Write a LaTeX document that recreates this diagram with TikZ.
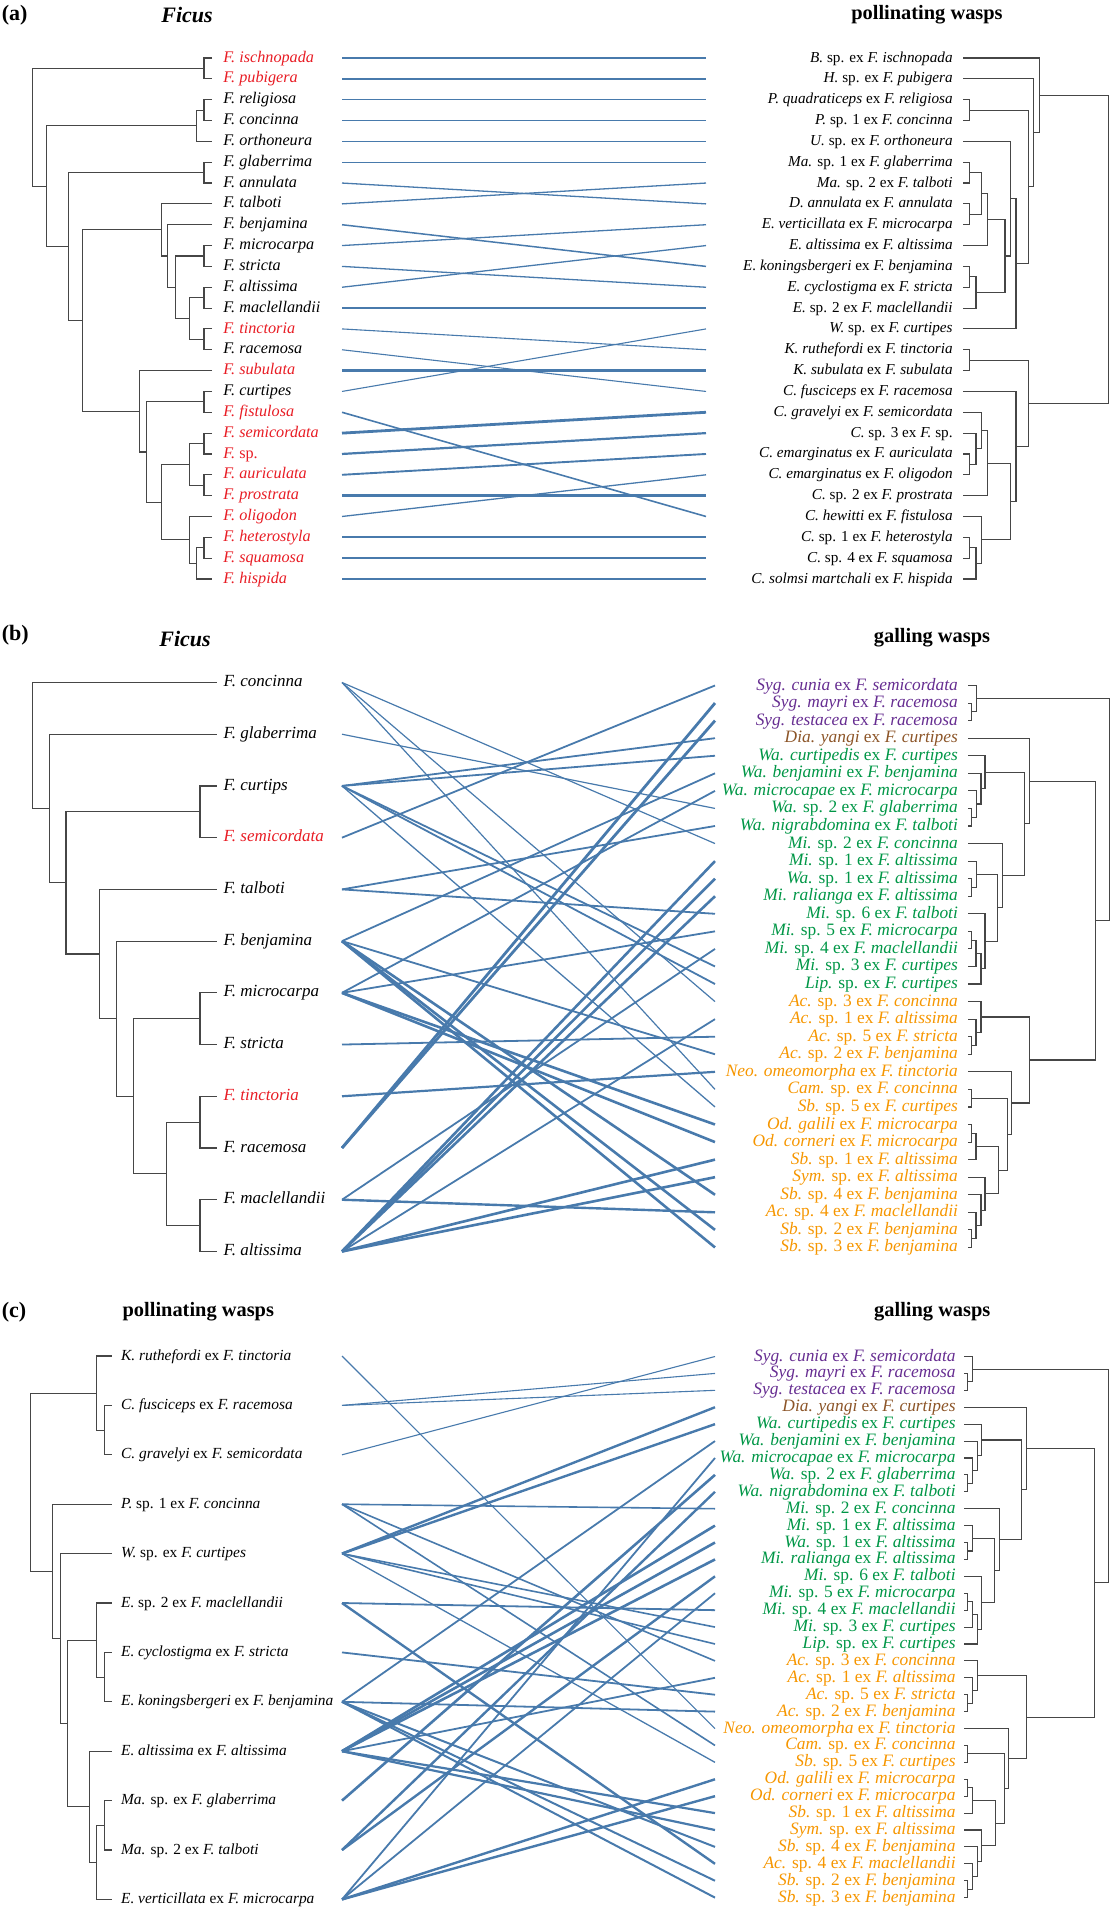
\documentclass[tikz,border=0pt]{standalone}
\usepackage{fontspec}
\setmainfont{Liberation Serif}
\usetikzlibrary{calc}
\definecolor{linkblue}{RGB}{72,122,172}
\definecolor{figred}{RGB}{232,28,36}
\definecolor{sygpurple}{RGB}{102,45,145}
\definecolor{diabrown}{RGB}{140,85,40}
\definecolor{wagreen}{RGB}{0,150,70}
\definecolor{acorange}{RGB}{246,150,0}
\definecolor{treegray}{RGB}{70,70,70}
\tikzstyle{branch}=[draw=treegray, line width=0.55pt]
\tikzstyle{link}=[draw=linkblue]
\tikzstyle{tipL}=[anchor=west, inner sep=0pt, text height=5.6pt, text depth=1.5pt]
\tikzstyle{tipR}=[anchor=east, inner sep=0pt, text height=5.4pt, text depth=1.4pt]
\tikzstyle{galR}=[anchor=east, inner sep=0pt, text height=6.1pt, text depth=1.6pt, font=\fontsize{8.7}{10}\selectfont]
\tikzstyle{head}=[inner sep=0pt, font=\bfseries\fontsize{10.2}{12}\selectfont]
\tikzstyle{genushead}=[inner sep=0pt, font=\bfseries\itshape\fontsize{11}{13}\selectfont]
\tikzstyle{panel}=[anchor=west, inner sep=0pt, font=\bfseries\fontsize{11}{13}\selectfont]
\pgfdeclarelayer{edgelayer}
\pgfdeclarelayer{nodelayer}
\pgfsetlayers{edgelayer,nodelayer,main}
\newcommand\gn[1]{\textit{#1}}
% bracket joining two children, new node at x = #2
\newcommand\clade[4]{%
  \coordinate (#1) at (perpendicular cs: horizontal line through={($(#3)!.5!(#4)$)}, vertical line through={(#2,0)});
  \draw[branch] (#3) -- (#3 -| #1) -- (#4 -| #1) -- (#4);
}
\newcommand\gallist{%
sygpurple/{\gn{Syg. cunia} ex \gn{F. semicordata}},
sygpurple/{\gn{Syg. mayri} ex \gn{F. racemosa}},
sygpurple/{\gn{Syg. testacea} ex \gn{F. racemosa}},
diabrown/{\gn{Dia. yangi} ex \gn{F. curtipes}},
wagreen/{\gn{Wa. curtipedis} ex \gn{F. curtipes}},
wagreen/{\gn{Wa. benjamini} ex \gn{F. benjamina}},
wagreen/{\gn{Wa. microcapae} ex \gn{F. microcarpa}},
wagreen/{\gn{Wa.} sp. 2 ex \gn{F. glaberrima}},
wagreen/{\gn{Wa. nigrabdomina} ex \gn{F. talboti}},
wagreen/{\gn{Mi.} sp. 2 ex \gn{F. concinna}},
wagreen/{\gn{Mi.} sp. 1 ex \gn{F. altissima}},
wagreen/{\gn{Wa.} sp. 1 ex \gn{F. altissima}},
wagreen/{\gn{Mi. ralianga} ex \gn{F. altissima}},
wagreen/{\gn{Mi.} sp. 6 ex \gn{F. talboti}},
wagreen/{\gn{Mi.} sp. 5 ex \gn{F. microcarpa}},
wagreen/{\gn{Mi.} sp. 4 ex \gn{F. maclellandii}},
wagreen/{\gn{Mi.} sp. 3 ex \gn{F. curtipes}},
wagreen/{\gn{Lip.} sp. ex \gn{F. curtipes}},
acorange/{\gn{Ac.} sp. 3 ex \gn{F. concinna}},
acorange/{\gn{Ac.} sp. 1 ex \gn{F. altissima}},
acorange/{\gn{Ac.} sp. 5 ex \gn{F. stricta}},
acorange/{\gn{Ac.} sp. 2 ex \gn{F. benjamina}},
acorange/{\gn{Neo. omeomorpha} ex \gn{F. tinctoria}},
acorange/{\gn{Cam.} sp. ex \gn{F. concinna}},
acorange/{\gn{Sb.} sp. 5 ex \gn{F. curtipes}},
acorange/{\gn{Od. galili} ex \gn{F. microcarpa}},
acorange/{\gn{Od. corneri} ex \gn{F. microcarpa}},
acorange/{\gn{Sb.} sp. 1 ex \gn{F. altissima}},
acorange/{\gn{Sym.} sp. ex \gn{F. altissima}},
acorange/{\gn{Sb.} sp. 4 ex \gn{F. benjamina}},
acorange/{\gn{Ac.} sp. 4 ex \gn{F. maclellandii}},
acorange/{\gn{Sb.} sp. 2 ex \gn{F. benjamina}},
acorange/{\gn{Sb.} sp. 3 ex \gn{F. benjamina}}}
% galling wasp tree: #1 prefix, #2 tip x, #3 spread
\newcommand\gallingtree[3]{%
  \clade{#1g1}{#2+#3*3.4}{#1W1}{#1W2}
  \clade{#1g2}{#2+#3*8.4}{#1W0}{#1g1}
  \clade{#1g3}{#2+#3*3.4}{#1W7}{#1W8}
  \clade{#1g4}{#2+#3*8.4}{#1W6}{#1g3}
  \clade{#1g5}{#2+#3*12.7}{#1W5}{#1g4}
  \clade{#1g6}{#2+#3*16.7}{#1W4}{#1g5}
  \clade{#1g7}{#2+#3*3.4}{#1W11}{#1W12}
  \clade{#1g8}{#2+#3*8.4}{#1W10}{#1g7}
  \clade{#1g9}{#2+#3*3.4}{#1W14}{#1W15}
  \clade{#1g10}{#2+#3*7.7}{#1g9}{#1W16}
  \clade{#1g11}{#2+#3*12.7}{#1g10}{#1W17}
  \clade{#1g12}{#2+#3*16.7}{#1W13}{#1g11}
  \clade{#1g13}{#2+#3*29.4}{#1g8}{#1g12}
  \clade{#1g14}{#2+#3*34.4}{#1W9}{#1g13}
  \clade{#1g15}{#2+#3*56}{#1g6}{#1g14}
  \clade{#1g16}{#2+#3*61}{#1W3}{#1g15}
  \clade{#1g17}{#2+#3*3.4}{#1W20}{#1W21}
  \clade{#1g18}{#2+#3*7.7}{#1W19}{#1g17}
  \clade{#1g19}{#2+#3*12.7}{#1W18}{#1g18}
  \clade{#1g20}{#2+#3*3.4}{#1W23}{#1W24}
  \clade{#1g21}{#2+#3*3.4}{#1W25}{#1W26}
  \clade{#1g22}{#2+#3*7.7}{#1g21}{#1W27}
  \clade{#1g23}{#2+#3*3.4}{#1W31}{#1W32}
  \clade{#1g24}{#2+#3*7.7}{#1W30}{#1g23}
  \clade{#1g25}{#2+#3*12.7}{#1W29}{#1g24}
  \clade{#1g26}{#2+#3*16.7}{#1W28}{#1g25}
  \clade{#1g27}{#2+#3*30}{#1g22}{#1g26}
  \clade{#1g28}{#2+#3*39}{#1g20}{#1g27}
  \clade{#1g29}{#2+#3*43.4}{#1W22}{#1g28}
  \clade{#1g30}{#2+#3*61}{#1g19}{#1g29}
  \clade{#1g31}{#2+#3*127.4}{#1g16}{#1g30}
  \clade{#1g32}{#2+#3*141}{#1g2}{#1g31}
}
\begin{document}
\begin{tikzpicture}[x=0.5pt, y=-0.5pt]
\useasboundingbox (0,0) rectangle (1110,1911);

%%% (a) Ficus vs pollinating wasps
\node[panel] (pa) at (1.5,15) {(a)};
\node[genushead] (ha1) at (187,15) {Ficus};
\node[head] (ha2) at (927,15) {pollinating wasps};
\begin{pgfonlayer}{nodelayer}
\foreach \c/\t [count=\i from 0] in {figred/\gn{F. ischnopada}, figred/\gn{F. pubigera},
  black/\gn{F. religiosa}, black/\gn{F. concinna}, black/\gn{F. orthoneura},
  black/\gn{F. glaberrima}, black/\gn{F. annulata}, black/\gn{F. talboti},
  black/\gn{F. benjamina}, black/\gn{F. microcarpa}, black/\gn{F. stricta},
  black/\gn{F. altissima}, black/\gn{F. maclellandii}, figred/\gn{F. tinctoria},
  black/\gn{F. racemosa}, figred/\gn{F. subulata}, black/\gn{F. curtipes},
  figred/\gn{F. fistulosa}, figred/\gn{F. semicordata}, figred/{\gn{F.} sp.},
  figred/\gn{F. auriculata}, figred/\gn{F. prostrata}, figred/\gn{F. oligodon},
  figred/\gn{F. heterostyla}, figred/\gn{F. squamosa}, figred/\gn{F. hispida}} {
  \node[tipL, text=\c, font=\fontsize{8.1}{9.5}\selectfont] (aF\i) at (223,58+20.84*\i) {\t};
  \coordinate (aT\i) at (212,58+20.84*\i);
  \coordinate (aL\i) at (342,58+20.84*\i);
}
\foreach \t [count=\i from 0] in {{\gn{B.} sp. ex \gn{F. ischnopada}},
  {\gn{H.} sp. ex \gn{F. pubigera}}, {\gn{P. quadraticeps} ex \gn{F. religiosa}},
  {\gn{P.} sp. 1 ex \gn{F. concinna}}, {\gn{U.} sp. ex \gn{F. orthoneura}},
  {\gn{Ma.} sp. 1 ex \gn{F. glaberrima}}, {\gn{Ma.} sp. 2 ex \gn{F. talboti}},
  {\gn{D. annulata} ex \gn{F. annulata}}, {\gn{E. verticillata} ex \gn{F. microcarpa}},
  {\gn{E. altissima} ex \gn{F. altissima}}, {\gn{E. koningsbergeri} ex \gn{F. benjamina}},
  {\gn{E. cyclostigma} ex \gn{F. stricta}}, {\gn{E.} sp. 2 ex \gn{F. maclellandii}},
  {\gn{W.} sp. ex \gn{F. curtipes}}, {\gn{K. ruthefordi} ex \gn{F. tinctoria}},
  {\gn{K. subulata} ex \gn{F. subulata}}, {\gn{C. fusciceps} ex \gn{F. racemosa}},
  {\gn{C. gravelyi} ex \gn{F. semicordata}}, {\gn{C.} sp. 3 ex \gn{F.} sp.},
  {\gn{C. emarginatus} ex \gn{F. auriculata}}, {\gn{C. emarginatus} ex \gn{F. oligodon}},
  {\gn{C.} sp. 2 ex \gn{F. prostrata}}, {\gn{C. hewitti} ex \gn{F. fistulosa}},
  {\gn{C.} sp. 1 ex \gn{F. heterostyla}}, {\gn{C.} sp. 4 ex \gn{F. squamosa}},
  {\gn{C. solmsi martchali} ex \gn{F. hispida}}} {
  \node[tipR, font=\fontsize{7.6}{9}\selectfont] (aP\i) at (953,58+20.84*\i) {\t};
  \coordinate (aW\i) at (963,58+20.84*\i);
  \coordinate (aR\i) at (706,58+20.84*\i);
}
\end{pgfonlayer}
\begin{pgfonlayer}{edgelayer}
\foreach \l/\r/\w in {0/0/1.5, 1/1/1.5, 2/2/1.4, 3/3/1.4, 4/4/1.4, 5/5/1.4, 6/7/1.3,
  7/6/1.3, 8/10/1.5, 9/8/1.3, 10/11/1.3, 11/9/1.3, 12/12/1.3, 13/14/1.1, 14/16/1.1,
  15/15/2.8, 16/13/1.1, 17/22/1.6, 18/17/2.8, 19/18/2.2, 20/19/1.9, 21/21/2.8,
  22/20/1.3, 23/23/2.2, 24/24/2.4, 25/25/2.4}
  \draw[link, line width=\w*0.5pt] (aL\l) -- (aR\r);
\end{pgfonlayer}
% Ficus tree (a)
\clade{fa1}{204}{aT0}{aT1}
\clade{fa2}{204}{aT2}{aT3}
\clade{fa3}{196.7}{fa2}{aT4}
\clade{fa4}{204}{aT5}{aT6}
\clade{fa5}{204}{aT9}{aT10}
\clade{fa6}{204}{aT11}{aT12}
\clade{fa7}{204}{aT13}{aT14}
\clade{fa8}{189.3}{fa6}{fa7}
\clade{fa9}{175.7}{fa5}{fa8}
\clade{fa10}{167.7}{aT8}{fa9}
\clade{fa11}{161.7}{aT7}{fa10}
\clade{fa12}{204}{aT16}{aT17}
\clade{fa13}{204}{aT18}{aT19}
\clade{fa14}{204}{aT20}{aT21}
\clade{fa15}{189.3}{fa13}{fa14}
\clade{fa16}{204}{aT23}{aT24}
\clade{fa17}{196.7}{fa16}{aT25}
\clade{fa18}{189.3}{aT22}{fa17}
\clade{fa19}{161.3}{fa15}{fa18}
\clade{fa20}{146.7}{fa12}{fa19}
\clade{fa21}{139.3}{aT15}{fa20}
\clade{fa22}{82.3}{fa11}{fa21}
\clade{fa23}{68.3}{fa4}{fa22}
\clade{fa24}{46.7}{fa3}{fa23}
\clade{fa25}{32.3}{fa1}{fa24}
% pollinator tree (a)
\clade{wa1}{969.3}{aW2}{aW3}
\clade{wa2}{969.3}{aW5}{aW6}
\clade{wa3}{969.3}{aW7}{aW8}
\clade{wa4}{981.7}{wa2}{wa3}
\clade{wa5}{987.3}{wa4}{aW9}
\clade{wa6}{969.3}{aW10}{aW11}
\clade{wa7}{976}{wa6}{aW12}
\clade{wa8}{1005}{wa5}{wa7}
\clade{wa9}{1010.7}{aW4}{wa8}
\clade{wa10}{1016}{wa9}{aW13}
\clade{wa11}{1028.3}{wa1}{wa10}
\clade{wa12}{1033.3}{aW1}{wa11}
\clade{wa13}{1039.3}{aW0}{wa12}
\clade{wa14}{969.3}{aW14}{aW15}
\clade{wa15}{969.3}{aW19}{aW20}
\clade{wa16}{976}{aW18}{wa15}
\clade{wa17}{981.7}{aW17}{wa16}
\clade{wa18}{987.3}{wa17}{aW21}
\clade{wa19}{969.3}{aW23}{aW24}
\clade{wa20}{976}{wa19}{aW25}
\clade{wa21}{981.7}{aW22}{wa20}
\clade{wa22}{1010.7}{wa18}{wa21}
\clade{wa23}{1016}{aW16}{wa22}
\clade{wa24}{1028.3}{wa14}{wa23}
\clade{wa25}{1108.8}{wa13}{wa24}

%%% (b) Ficus vs galling wasps
\node[panel] (pb) at (1.5,635) {(b)};
\node[genushead] (hb1) at (185,639) {Ficus};
\node[head] (hb2) at (932,638) {galling wasps};
\begin{pgfonlayer}{nodelayer}
\foreach \c/\t [count=\i from 0] in {black/\gn{F. concinna}, black/\gn{F. glaberrima},
  black/\gn{F. curtips}, figred/\gn{F. semicordata}, black/\gn{F. talboti},
  black/\gn{F. benjamina}, black/\gn{F. microcarpa}, black/\gn{F. stricta},
  figred/\gn{F. tinctoria}, black/\gn{F. racemosa}, black/\gn{F. maclellandii},
  black/\gn{F. altissima}} {
  \node[tipL, text=\c, font=\fontsize{8.5}{10}\selectfont] (bF\i) at (223.3,682.5+51.72*\i) {\t};
  \coordinate (bT\i) at (216.7,682.5+51.72*\i);
  \coordinate (bL\i) at (342,682.5+51.72*\i);
}
\foreach \c/\t [count=\j from 0] in \gallist {
  \node[galR, text=\c] (bG\j) at (958.3,685.5+17.56*\j) {\t};
  \coordinate (bW\j) at (968.3,685.5+17.56*\j);
  \coordinate (bR\j) at (715,685.5+17.56*\j);
}
\end{pgfonlayer}
\begin{pgfonlayer}{edgelayer}
\foreach \l/\r/\w in {0/9/1.2, 0/18/1.2, 0/23/1.2, 1/7/1.2, 2/3/1.8, 2/4/1.8, 2/16/1.8,
  2/17/1.8, 2/24/1.3, 3/0/1.8, 4/8/1.8, 4/13/1.8, 5/5/1.8, 5/21/1.8, 5/29/2.6,
  5/31/2.6, 5/32/2.6, 6/6/1.8, 6/14/1.8, 6/25/2.6, 6/26/2.6, 7/20/1.8, 8/22/2.2,
  9/1/2.8, 9/2/2.8, 10/15/1.8, 10/30/2.4, 11/10/2.6, 11/11/2.6, 11/12/2.6,
  11/19/1.8, 11/27/2.6, 11/28/2.6}
  \draw[link, line width=\w*0.5pt] (bL\l) -- (bR\r);
\end{pgfonlayer}
% Ficus tree (b)
\clade{fb1}{200}{bT2}{bT3}
\clade{fb2}{200}{bT6}{bT7}
\clade{fb3}{200}{bT8}{bT9}
\clade{fb4}{200}{bT10}{bT11}
\clade{fb5}{166.7}{fb3}{fb4}
\clade{fb6}{133.3}{fb2}{fb5}
\clade{fb7}{116.3}{bT5}{fb6}
\clade{fb8}{99.3}{bT4}{fb7}
\clade{fb9}{66}{fb1}{fb8}
\clade{fb10}{49.3}{bT1}{fb9}
\clade{fb11}{32.3}{bT0}{fb10}
\gallingtree{b}{968.3}{1}

%%% (c) pollinating vs galling wasps
\node[panel] (pc) at (1.5,1311.7) {(c)};
\node[head] (hc1) at (198.3,1311.7) {pollinating wasps};
\node[head] (hc2) at (932.3,1311.7) {galling wasps};
\begin{pgfonlayer}{nodelayer}
\foreach \t [count=\i from 0] in {{\gn{K. ruthefordi} ex \gn{F. tinctoria}},
  {\gn{C. fusciceps} ex \gn{F. racemosa}}, {\gn{C. gravelyi} ex \gn{F. semicordata}},
  {\gn{P.} sp. 1 ex \gn{F. concinna}}, {\gn{W.} sp. ex \gn{F. curtipes}},
  {\gn{E.} sp. 2 ex \gn{F. maclellandii}}, {\gn{E. cyclostigma} ex \gn{F. stricta}},
  {\gn{E. koningsbergeri} ex \gn{F. benjamina}}, {\gn{E. altissima} ex \gn{F. altissima}},
  {\gn{Ma.} sp. ex \gn{F. glaberrima}}, {\gn{Ma.} sp. 2 ex \gn{F. talboti}},
  {\gn{E. verticillata} ex \gn{F. microcarpa}}} {
  \node[tipL, font=\fontsize{7.7}{9}\selectfont] (cP\i) at (120.7,1356+49.4*\i) {\t};
  \coordinate (cT\i) at (111.7,1356+49.4*\i);
  \coordinate (cL\i) at (342,1356+49.4*\i);
}
\foreach \c/\t [count=\j from 0] in \gallist {
  \node[galR, text=\c] (cG\j) at (956,1356.5+16.91*\j) {\t};
  \coordinate (cW\j) at (964.3,1356.5+16.91*\j);
  \coordinate (cR\j) at (715,1356.5+16.91*\j);
}
\end{pgfonlayer}
\begin{pgfonlayer}{edgelayer}
\foreach \l/\r/\w in {0/22/1.1, 1/1/1.1, 1/2/1.1, 2/0/1.1, 3/9/1.6, 3/18/1.6, 3/23/1.6,
  4/3/2.4, 4/4/2.4, 4/16/1.6, 4/17/1.6, 4/24/1.3, 5/15/1.8, 5/30/2.4, 6/20/1.8,
  7/5/1.8, 7/21/1.8, 7/29/2.0, 7/31/2.0, 7/32/2.0, 8/10/2.6, 8/11/2.6, 8/12/2.6,
  8/19/1.8, 8/27/2.2, 8/28/2.2, 9/7/2.6, 10/8/2.4, 10/13/2.4, 11/6/1.8, 11/14/1.8,
  11/25/2.4, 11/26/2.4}
  \draw[link, line width=\w*0.5pt] (cL\l) -- (cR\r);
\end{pgfonlayer}
% pollinator tree (c)
\clade{fc1}{104.3}{cT1}{cT2}
\clade{fc2}{96.7}{cT0}{fc1}
\clade{fc3}{104.3}{cT6}{cT7}
\clade{fc4}{96.7}{cT5}{fc3}
\clade{fc5}{104.3}{cT9}{cT10}
\clade{fc6}{96.7}{fc5}{cT11}
\clade{fc7}{89.3}{cT8}{fc6}
\clade{fc8}{67.7}{fc4}{fc7}
\clade{fc9}{60.3}{cT4}{fc8}
\clade{fc10}{52.7}{cT3}{fc9}
\clade{fc11}{30.7}{fc2}{fc10}
\gallingtree{c}{964.3}{1.025}
\end{tikzpicture}
\end{document}
